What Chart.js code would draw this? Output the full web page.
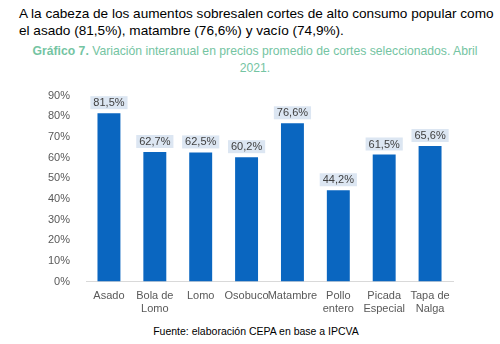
<!DOCTYPE html>
<html>
<head>
<meta charset="utf-8">
<script src="https://cdn.jsdelivr.net/npm/chart.js@4"></script>
<style>
  body { margin: 0; width: 500px; height: 344px; background: #fff; font-family: "Liberation Sans", Arial, sans-serif; position: relative; overflow: hidden; }
  .intro { position: absolute; left: 19px; top: 5px; width: 478px; font-size: 13.6px; line-height: 17px; color: #000; }
  .titulo { position: absolute; left: 20px; top: 43px; width: 470px; text-align: center; font-size: 12.2px; line-height: 17px; color: #74c4a2; }
  .titulo b { font-weight: bold; }
  .fuente { position: absolute; left: 0; top: 325px; width: 512px; text-align: center; font-size: 10.5px; color: #000; }
  .grafico { position: absolute; left: 0; top: 81px; width: 500px; height: 235px; }
</style>
</head>
<body>
<div class="intro">A la cabeza de los aumentos sobresalen cortes de alto consumo popular como el asado (81,5%), matambre (76,6%) y vacío (74,9%).</div>
<div class="titulo"><b>Gráfico 7.</b> Variación interanual en precios promedio de cortes seleccionados. Abril 2021.</div>
<div class="grafico"><canvas id="grafico7"></canvas></div>
<div class="fuente">Fuente: elaboración CEPA en base a IPCVA</div>

<script>
// datos del grafico
var cortes = [["Asado"], ["Bola de", "Lomo"], ["Lomo"], ["Osobuco"], ["Matambre"], ["Pollo", "entero"], ["Picada", "Especial"], ["Tapa de", "Nalga"]];
var variacion = [81.5, 62.7, 62.5, 60.2, 76.6, 44.2, 61.5, 65.6];
var maxEje = 90;
var pasoEje = 10;

// etiquetas de valor con fondo celeste
var etiquetasPlugin = {
    id: "etiquetas",
    afterDatasetsDraw: function (chart) {
        var ctx = chart.ctx;
        var meta = chart.getDatasetMeta(0);
        ctx.save();
        ctx.font = "11px 'Liberation Sans', Arial, sans-serif";
        ctx.textAlign = "center";
        ctx.textBaseline = "middle";
        meta.data.forEach(function (bar, i) {
            var texto = variacion[i].toFixed(1).replace(".", ",") + "%";
            var w = ctx.measureText(texto).width + 6;
            var h = 13;
            var y = bar.y - 4 - h / 2;
            ctx.fillStyle = "#dce6f2";
            ctx.fillRect(bar.x - w / 2, y - h / 2, w, h);
            ctx.fillStyle = "#404040";
            ctx.fillText(texto, bar.x, y + 0.5);
        });
        ctx.restore();
    }
};

var ctx7 = document.getElementById("grafico7").getContext("2d");
var chart7 = new Chart(ctx7, {
    type: "bar",
    data: {
        labels: cortes,
        datasets: [{
            data: variacion,
            backgroundColor: "#0a66c0",
            categoryPercentage: 1,
            barPercentage: 0.5
        }]
    },
    options: {
        responsive: true,
        maintainAspectRatio: false,
        animation: false,
        layout: { padding: { left: 40, right: 47, top: 0, bottom: 0 } },
        plugins: { legend: { display: false }, tooltip: { enabled: false } },
        scales: {
            x: {
                grid: { display: false },
                border: { color: "#d9d9d9", width: 1 },
                ticks: { color: "#595959", font: { size: 11, family: "'Liberation Sans', Arial, sans-serif" }, maxRotation: 0, autoSkip: false, padding: 0 }
            },
            y: {
                min: 0,
                max: maxEje,
                grid: { display: false },
                border: { display: false },
                ticks: {
                    stepSize: pasoEje,
                    color: "#595959",
                    padding: 8,
                    font: { size: 11, family: "'Liberation Sans', Arial, sans-serif" },
                    callback: function (v) { return v + "%"; }
                }
            }
        }
    },
    plugins: [etiquetasPlugin]
});
</script>
</body>
</html>
